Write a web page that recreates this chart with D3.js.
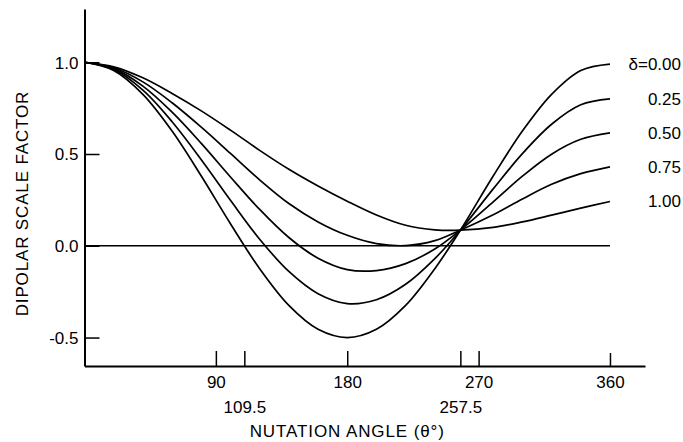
<!DOCTYPE html>
<html>
<head>
<meta charset="utf-8">
<script src="https://cdn.jsdelivr.net/npm/d3@7"></script>
<style>
  body { margin: 0; background: #fff; }
  text { font-family: "Liberation Sans", Arial, sans-serif; fill: #000; }
</style>
</head>
<body>
<div id="chart"></div>
<script>
// nutation angle samples (degrees)
const angles = [0, 20, 40, 60, 80, 100, 120, 140, 160, 180, 200, 220, 240, 257.5, 280, 300, 320, 340, 360];

// dipolar scale factor, one array per delta
const delta000 = [1.0, 0.955, 0.825, 0.625, 0.38, 0.12, -0.125, -0.325, -0.455, -0.5, -0.455, -0.325, -0.125, 0.085, 0.38, 0.625, 0.825, 0.955, 0.99];
const delta025 = [1.0, 0.96, 0.848, 0.676, 0.469, 0.248, 0.036, -0.14, -0.261, -0.315, -0.294, -0.21, -0.07, 0.085, 0.31, 0.502, 0.662, 0.768, 0.80];
const delta050 = [1.0, 0.965, 0.87, 0.728, 0.558, 0.375, 0.198, 0.045, -0.068, -0.13, -0.135, -0.097, -0.018, 0.085, 0.239, 0.379, 0.499, 0.58, 0.615];
const delta075 = [1.0, 0.97, 0.893, 0.779, 0.646, 0.503, 0.359, 0.23, 0.13, 0.057, 0.012, 0.001, 0.028, 0.085, 0.169, 0.255, 0.335, 0.393, 0.43];
const delta100 = [1.0, 0.975, 0.915, 0.83, 0.735, 0.63, 0.52, 0.417, 0.326, 0.243, 0.168, 0.112, 0.087, 0.085, 0.1, 0.13, 0.167, 0.205, 0.241];

const seriesLabels = ["\u03b4=0.00", "0.25", "0.50", "0.75", "1.00"];
const seriesValues = [delta000, delta025, delta050, delta075, delta100];

const xTicks = [90, 109.5, 180, 257.5, 270, 360];
const xTickLabels = ["90", "109.5", "180", "257.5", "270", "360"];
const yTicks = [1.0, 0.5, 0.0, -0.5];
const yTickLabels = ["1.0", "0.5", "0.0", "-0.5"];

const width = 683;
const height = 442;

const svg = d3.select("#chart").append("svg")
  .attr("width", width)
  .attr("height", height);

// scales: plot frame runs a bit past the data on the right and top
const x = d3.scaleLinear().domain([0, 384]).range([84.5, 645]);
const y = d3.scaleLinear().domain([-0.655, 1.29]).range([366, 9]);

// y axis, ticks pointing inward
const yAxis = d3.axisLeft(y)
  .tickValues(yTicks)
  .tickSizeInner(-15)
  .tickSizeOuter(0)
  .tickFormat((d, i) => yTickLabels[i]);

const gy = svg.append("g")
  .attr("transform", `translate(${x(0)},0)`)
  .call(yAxis);
gy.select(".domain").attr("stroke-width", 2);
gy.selectAll(".tick line").attr("stroke-width", 1.5);
gy.selectAll(".tick text").attr("font-size", 17).attr("x", -6).attr("dy", "0.35em");

// x axis, ticks pointing up
const xAxis = d3.axisBottom(x)
  .tickValues(xTicks)
  .tickSizeInner(-15)
  .tickSizeOuter(0)
  .tickFormat((d, i) => xTickLabels[i]);

const gx = svg.append("g")
  .attr("transform", `translate(0,${y(-0.655)})`)
  .call(xAxis);
gx.select(".domain").attr("stroke-width", 2);
gx.selectAll(".tick line").attr("stroke-width", 1.5)
  .attr("y2", (d) => (d === 360 ? -13 : -15));
gx.selectAll(".tick text")
  .attr("font-size", 17)
  .attr("dy", 0)
  .attr("y", (d) => (d === 109.5 || d === 257.5 ? 47 : 22));

// zero line
svg.append("line")
  .attr("x1", x(0))
  .attr("x2", x(360))
  .attr("y1", y(0))
  .attr("y2", y(0))
  .attr("stroke", "#000")
  .attr("stroke-width", 1.5);

// curves
const line = d3.line()
  .x((d, i) => x(angles[i]))
  .y((d) => y(d))
  .curve(d3.curveCatmullRom.alpha(0.5));

svg.append("g").selectAll("path")
  .data(seriesValues)
  .enter()
  .append("path")
  .attr("d", (d) => line(d))
  .attr("fill", "none")
  .attr("stroke", "#000")
  .attr("stroke-width", 1.7);

// curve labels at the right end
svg.append("g").selectAll("text")
  .data(seriesValues)
  .enter()
  .append("text")
  .attr("x", 681)
  .attr("y", (d) => y(d[d.length - 1]))
  .attr("dy", "0.35em")
  .attr("text-anchor", "end")
  .attr("font-size", 17)
  .text((d, i) => seriesLabels[i]);

// axis titles
svg.append("text")
  .attr("x", x(180))
  .attr("y", 437)
  .attr("text-anchor", "middle")
  .attr("font-size", 17)
  .attr("letter-spacing", 0.9)
  .text("NUTATION ANGLE (\u03b8\u00b0)");

svg.append("text")
  .attr("transform", `translate(28,${y(0.23)}) rotate(-90)`)
  .attr("text-anchor", "middle")
  .attr("font-size", 17)
  .attr("letter-spacing", 0.85)
  .text("DIPOLAR SCALE FACTOR");
</script>
</body>
</html>
